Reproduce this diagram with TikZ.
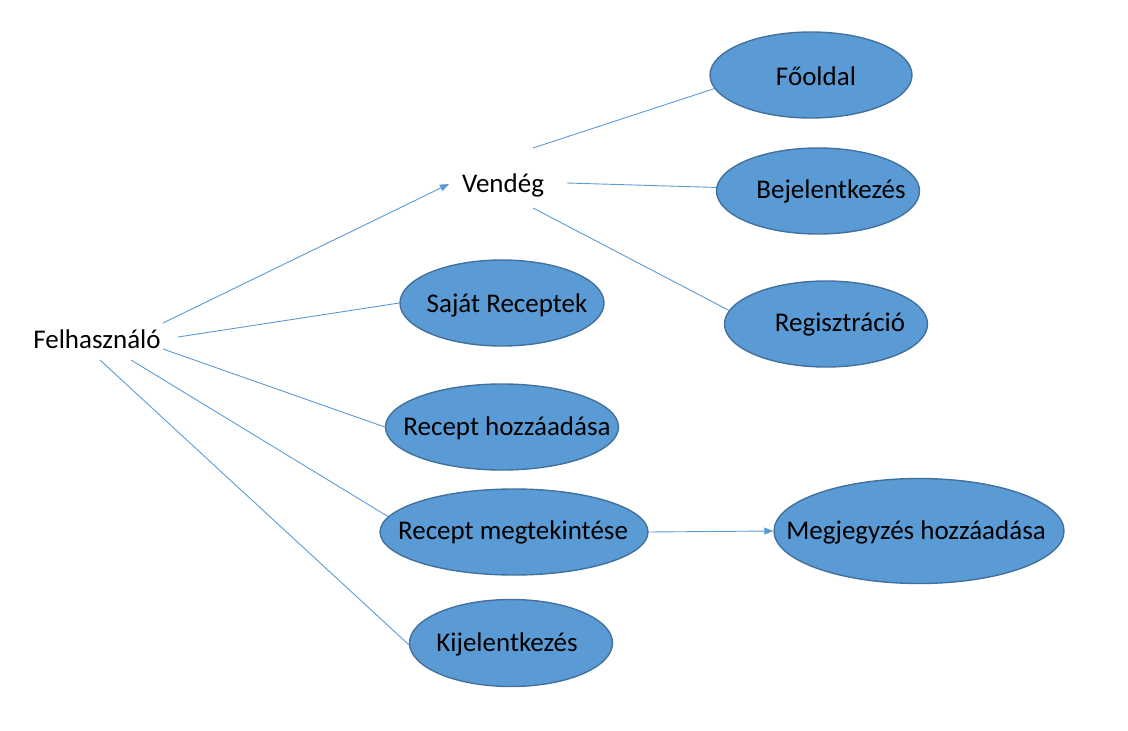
\documentclass[tikz,border=0pt]{standalone}
\usepackage{fontspec}
\setmainfont{Carlito}
\usetikzlibrary{arrows.meta,shapes.geometric}
\definecolor{efill}{HTML}{5B9BD5}
\definecolor{edraw}{HTML}{41719C}
\definecolor{lcol}{HTML}{5B9BD5}
\begin{document}
\begin{tikzpicture}[x=1pt,y=-1pt,
  uc/.style={ellipse,draw=edraw,fill=efill,line width=1.4pt,inner sep=0pt},
  lbl/.style={font=\fontsize{27}{32}\selectfont,inner sep=0pt,text=black},
  conn/.style={draw=lcol,line width=0.9pt},
  arr/.style={conn,-{Triangle[length=9pt,width=7pt]}}]
\useasboundingbox (0,0) rectangle (1128,731);
% use cases
\node[uc,minimum width=202pt,minimum height=86pt] (fo) at (811,75) {};
\node[uc,minimum width=203pt,minimum height=86pt] (be) at (818,191) {};
\node[uc,minimum width=203pt,minimum height=86pt] (re) at (826,324) {};
\node[uc,minimum width=204pt,minimum height=86pt] (sr) at (502,303) {};
\node[uc,minimum width=233pt,minimum height=86pt] (rh) at (502,427) {};
\node[uc,minimum width=268pt,minimum height=86pt] (rm) at (514,532) {};
\node[uc,minimum width=290pt,minimum height=105pt] (mh) at (919,531) {};
\node[uc,minimum width=203pt,minimum height=87pt] (ki) at (511,643) {};
% labels
\node[lbl] (tfo) at (816,76) {Főoldal};
\node[lbl] (tbe) at (831,191) {Bejelentkezés};
\node[lbl] (tre) at (840,325) {Regisztráció};
\node[lbl] (tsr) at (507,305) {Saját Receptek};
\node[lbl] (trh) at (507,428) {Recept hozzáadása};
\node[lbl] (trm) at (513,532) {Recept megtekintése};
\node[lbl] (tmh) at (916,532) {Megjegyzés hozzáadása};
\node[lbl] (tki) at (507,644) {Kijelentkezés};
\node[lbl] (ve) at (503,185) {Vendég};
\node[lbl] (fe) at (97,339) {Felhasználó};
% connector end points
\coordinate (f1) at (163,323);
\coordinate (f2) at (178,337);
\coordinate (f3) at (163,349);
\coordinate (f4) at (131,360);
\coordinate (f5) at (100,360);
\coordinate (va) at (449,184);
\coordinate (v1) at (533,148);
\coordinate (v2) at (567,183);
\coordinate (v3) at (533,208);
\coordinate (m1) at (648,532);
% connectors
\draw[arr] (f1) -- (va);
\draw[conn] (f2) -- (sr.west);
\draw[conn] (f3) -- (rh.west);
\draw[conn] (f4) -- (rm.173);
\draw[conn] (f5) -- (ki.181);
\draw[conn] (v1) -- (fo.188);
\draw[conn] (v2) -- (be.178);
\draw[conn] (v3) -- (re.172);
\draw[arr] (m1) -- (mh.west);
\end{tikzpicture}
\end{document}
